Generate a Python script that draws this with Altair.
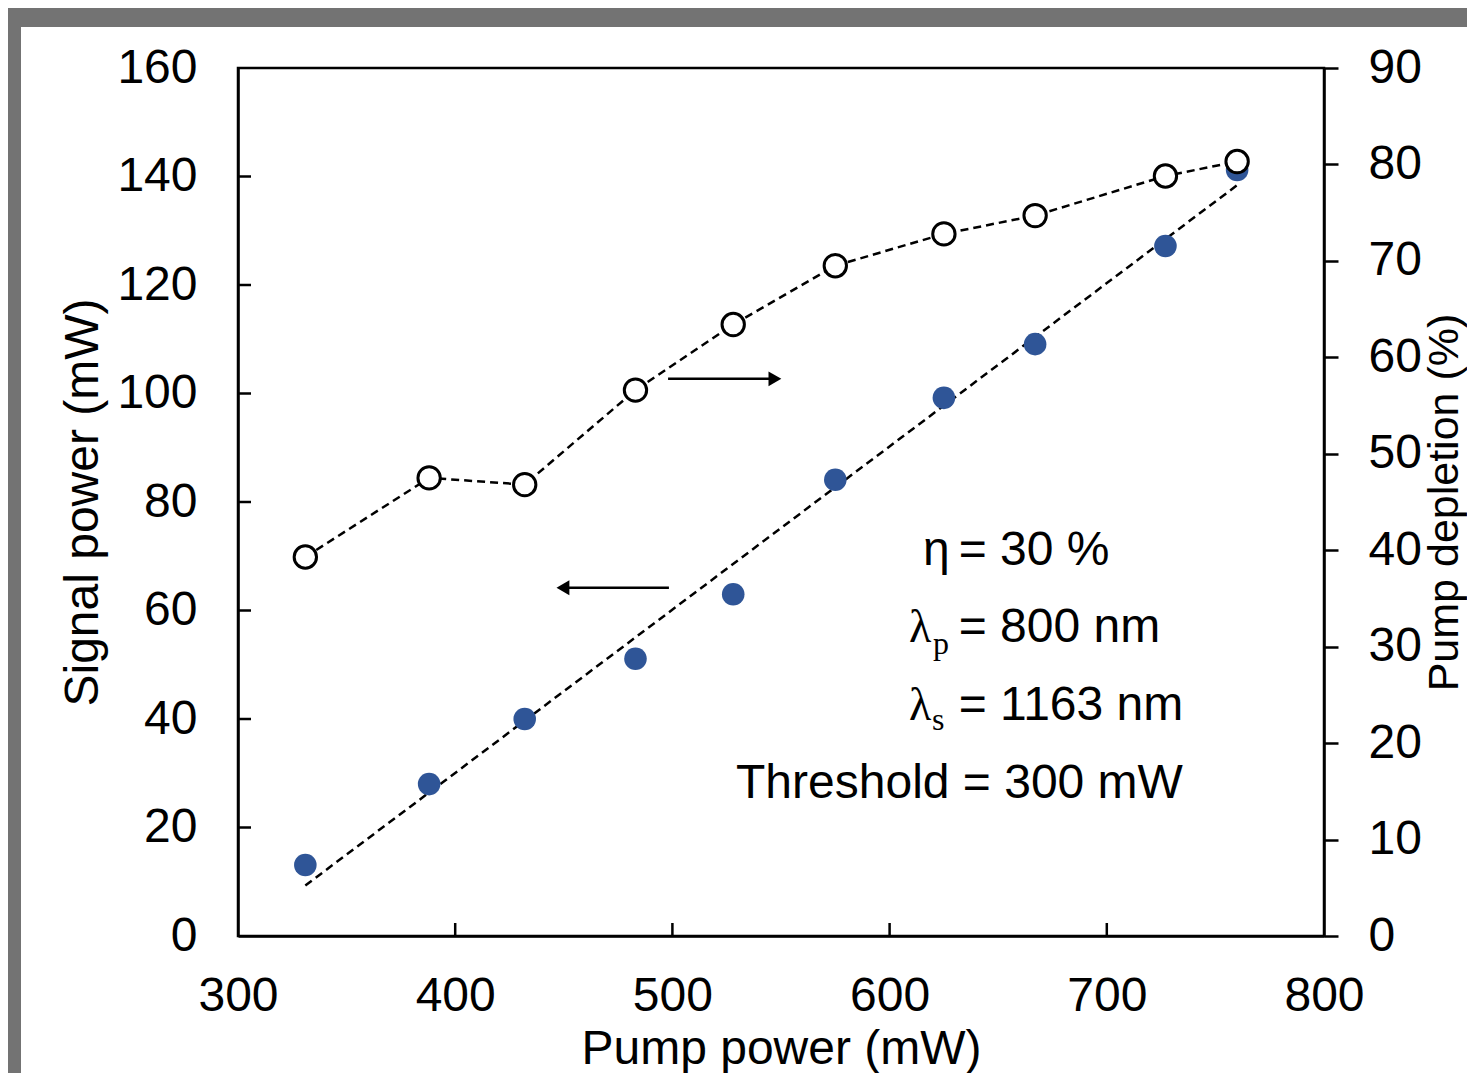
import altair as alt
import pandas as pd

# ---- data ----
pump_power = [331, 388, 432, 483, 528, 575, 625, 667, 727, 760]
signal_power = [13.1, 28.0, 40.0, 51.1, 63.0, 84.1, 99.2, 109.1, 127.2, 141.2]
pump_depletion = [39.3, 47.5, 46.8, 56.6, 63.4, 69.5, 72.8, 74.7, 78.8, 80.3]

fit_x = [331, 760]
fit_y = [9.3, 138.4]

x_ticks = [300, 400, 500, 600, 700, 800]
y_left_ticks = [0, 20, 40, 60, 80, 100, 120, 140, 160]
y_right_ticks = [0, 10, 20, 30, 40, 50, 60, 70, 80, 90]

arrow_x_start = [498.0, 498.4]
arrow_x_end = [547.2, 449.6]
arrow_y = [102.7, 64.2]
arrow_shape = ["triangle-right", "triangle-left"]

ann_text = ["= 30 %", "= 800 nm", "= 1163 nm", "Threshold = 300 mW"]
ann_x = [631.8, 631.8, 631.8, 529.3]
ann_y = [68.4, 54.2, 39.8, 25.4]
eta_text = ["η"]
eta_x = [615.4]
eta_y = [68.4]
lam_text = ["λ", "λ"]
lam_x = [608.9, 608.9]
lam_y = [54.2, 39.8]
sub_text = ["p", "s"]
sub_x = [620.0, 619.5]
sub_y = [52.0, 37.9]

# ---- tables ----
pts = pd.DataFrame({"pump": pump_power, "signal": signal_power, "depl": pump_depletion})
fit = pd.DataFrame({"pump": fit_x, "signal": fit_y})
arrows = pd.DataFrame({"x1": arrow_x_start, "x2": arrow_x_end, "y": arrow_y, "shape": arrow_shape})
ann = pd.DataFrame({"x": ann_x, "y": ann_y, "t": ann_text})
eta = pd.DataFrame({"x": eta_x, "y": eta_y, "t": eta_text})
lam = pd.DataFrame({"x": lam_x, "y": lam_y, "t": lam_text})
sub = pd.DataFrame({"x": sub_x, "y": sub_y, "t": sub_text})
xt = pd.DataFrame({"v": x_ticks[1:-1]})
yt = pd.DataFrame({"v": y_left_ticks[1:-1]})
dummy = pd.DataFrame({"a": [0]})

SANS = "Liberation Sans"
SERIF = "Liberation Serif"
FS = 48
W, H = 1086, 868

xscale = alt.Scale(domain=[300, 800], nice=False, zero=False)
xaxis = alt.Axis(values=x_ticks, ticks=False, labelPadding=36, title="Pump power (mW)",
                 titleX=W / 2, titleY=127, titleBaseline="alphabetic", titleAlign="center",
                 grid=False, format="d", zindex=1)
yscale = alt.Scale(domain=[0, 160], nice=False)
yaxis = alt.Axis(values=y_left_ticks, ticks=False, labelPadding=41, title="Signal power (mW)",
                 titleAngle=270, titleX=-141, titleY=H / 2, titleBaseline="alphabetic",
                 titleAlign="center", grid=False, format="d", zindex=1)
yrscale = alt.Scale(domain=[0, 90], nice=False)
yraxis = alt.Axis(values=y_right_ticks, orient="right", ticks=True, tickSize=14, labelPadding=30,
                  title="Pump depletion (%)", titleAngle=270, titleX=133, titleY=H / 2,
                  titleFontSize=43,
                  titleBaseline="alphabetic", titleAlign="center", grid=False, format="d",
                  zindex=1)

X = lambda f: alt.X(f"{f}:Q", scale=xscale, axis=xaxis)
Y = lambda f: alt.Y(f"{f}:Q", scale=yscale, axis=yaxis)

# white panel over the grey frame
panel = alt.Chart(dummy).mark_rect(color="white").encode(
    x=alt.value(-217), x2=alt.value(1300), y=alt.value(-41), y2=alt.value(1100)
)
# plot frame
frame = alt.Chart(dummy).mark_rect(fillOpacity=0, stroke="black", strokeWidth=2.5).encode(
    x=alt.value(0), x2=alt.value(W), y=alt.value(0), y2=alt.value(H)
)

fit_line = alt.Chart(fit).mark_line(color="black", strokeWidth=2.5, strokeDash=[8, 5]).encode(
    x=X("pump"), y=Y("signal")
)
blue = alt.Chart(pts).mark_circle(color="#2F5597", size=510, opacity=1).encode(
    x=X("pump"), y=Y("signal")
)
arrow_line = alt.Chart(arrows).mark_rule(color="black", strokeWidth=2.5).encode(
    x=X("x1"), x2="x2:Q", y=Y("y")
)
arrow_head = alt.Chart(arrows).mark_point(filled=True, color="black", size=220, opacity=1).encode(
    x=X("x2"), y=Y("y"), shape=alt.Shape("shape:N", scale=None)
)
ann_t = alt.Chart(ann).mark_text(align="left", baseline="alphabetic", font=SANS, fontSize=FS,
                                 color="black").encode(x=X("x"), y=Y("y"), text="t:N")
eta_t = alt.Chart(eta).mark_text(align="left", baseline="alphabetic", font=SANS, fontSize=48,
                                 color="black").encode(x=X("x"), y=Y("y"), text="t:N")
lam_t = alt.Chart(lam).mark_text(align="left", baseline="alphabetic", font=SERIF, fontSize=46,
                                 color="black").encode(x=X("x"), y=Y("y"), text="t:N")
sub_t = alt.Chart(sub).mark_text(align="left", baseline="alphabetic", font=SERIF, fontSize=32,
                                 color="black").encode(x=X("x"), y=Y("y"), text="t:N")
x_in_ticks = alt.Chart(xt).mark_rule(color="black", strokeWidth=2.5).encode(
    x=X("v"), y=alt.value(H), y2=alt.value(H - 13)
)
y_in_ticks = alt.Chart(yt).mark_rule(color="black", strokeWidth=2.5).encode(
    y=Y("v"), x=alt.value(0), x2=alt.value(13)
)

left = alt.layer(panel, frame, x_in_ticks, y_in_ticks, fit_line, blue, arrow_line, arrow_head,
                 ann_t, eta_t, lam_t, sub_t)

dep_line = alt.Chart(pts).mark_line(color="black", strokeWidth=2.5, strokeDash=[8, 5]).encode(
    x=X("pump"), y=alt.Y("depl:Q", scale=yrscale, axis=yraxis)
)
dep_pts = alt.Chart(pts).mark_circle(fill="white", stroke="black", strokeWidth=3, size=500,
                                     opacity=1, fillOpacity=1).encode(
    x=X("pump"), y=alt.Y("depl:Q", scale=yrscale, axis=yraxis)
)
right = alt.layer(dep_line, dep_pts)

chart = alt.layer(left, right).resolve_scale(y="independent").properties(
    width=W, height=H,
    autosize=alt.AutoSizeParams(type="none"),
    padding={"left": 230, "top": 60, "right": 143, "bottom": 137},
    background="#737373",
).configure_view(
    stroke=None
).configure_axis(
    labelFont=SANS, labelFontSize=FS, labelColor="black",
    titleFont=SANS, titleFontSize=FS, titleFontWeight="normal", titleColor="black",
    domainColor="black", domainWidth=2.5, tickColor="black", tickWidth=2.5,
    labelFlush=False, labelOverlap=False
)

chart.save("out.html", embed_options={"renderer": "svg", "actions": False})
